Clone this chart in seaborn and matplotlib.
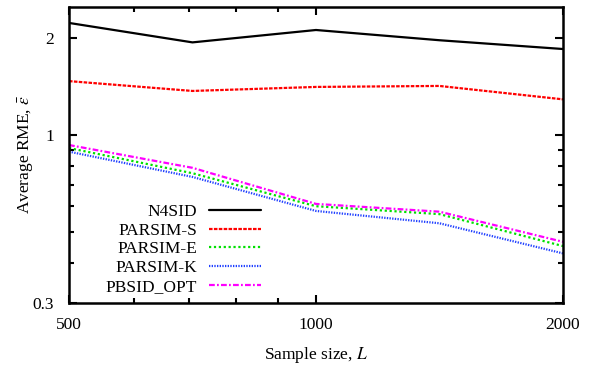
import numpy as np
import pandas as pd
import seaborn as sns
import matplotlib.pyplot as plt
from matplotlib.ticker import FixedLocator, FixedFormatter, NullFormatter

sample_size = [500, 707, 1000, 1414, 2000]
methods = ['N4SID', 'PARSIM-S', 'PARSIM-E', 'PARSIM-K', 'PBSID_OPT']
n4sid = [2.23, 1.94, 2.12, 1.97, 1.85]
parsim_s = [1.47, 1.37, 1.41, 1.42, 1.29]
parsim_e = [0.91, 0.76, 0.60, 0.567, 0.451]
parsim_k = [0.887, 0.74, 0.58, 0.531, 0.428]
pbsid_opt = [0.93, 0.79, 0.61, 0.577, 0.465]

df = pd.DataFrame({
    'L': sample_size * 5,
    'rme': n4sid + parsim_s + parsim_e + parsim_k + pbsid_opt,
    'method': [m for m in methods for _ in sample_size],
})

sns.set_style('ticks')
plt.rcParams['font.family'] = ['Liberation Serif', 'DejaVu Serif']
plt.rcParams['mathtext.fontset'] = 'stix'
plt.rcParams['text.color'] = 'black'
plt.rcParams['axes.labelcolor'] = 'black'

colors = {'N4SID': 'black', 'PARSIM-S': '#ff0000', 'PARSIM-E': '#00e000',
          'PARSIM-K': '#2040ff', 'PBSID_OPT': '#ff00ff'}
dashes = {'N4SID': '', 'PARSIM-S': (1.6, 0.6), 'PARSIM-E': (1.0, 1.2),
          'PARSIM-K': (0.6, 0.6), 'PBSID_OPT': (2.6, 1.0, 0.8, 1.0)}

fs = 12.5
fig = plt.figure(figsize=(5.96, 3.67), dpi=100)
ax = fig.add_axes([0.1158, 0.1744, 0.8288, 0.8066])
sns.lineplot(data=df, x='L', y='rme', hue='method', style='method',
             palette=colors, dashes=dashes, hue_order=methods, style_order=methods,
             linewidth=1.6, ax=ax)

ax.set_xscale('log')
ax.set_yscale('log')
ax.set_xlim(500, 2000)
ax.set_ylim(0.3, 2.5)

ax.xaxis.set_major_locator(FixedLocator([500, 1000, 2000]))
ax.xaxis.set_major_formatter(FixedFormatter(['500', '1000', '2000']))
ax.xaxis.set_minor_locator(FixedLocator([600, 700, 800, 900]))
ax.xaxis.set_minor_formatter(NullFormatter())
ax.yaxis.set_major_locator(FixedLocator([0.3, 1, 2]))
ax.yaxis.set_major_formatter(FixedFormatter(['0.3', '1', '2']))
ax.yaxis.set_minor_locator(FixedLocator([0.4, 0.5, 0.6, 0.7, 0.8, 0.9]))
ax.yaxis.set_minor_formatter(NullFormatter())

ax.tick_params(which='both', direction='in', top=True, right=True, width=1.5,
               colors='black', labelsize=fs)
ax.tick_params(axis='x', pad=10)
ax.tick_params(axis='y', pad=11)
ax.tick_params(which='major', length=6)
ax.tick_params(which='minor', length=3.5)
for s in ax.spines.values():
    s.set_linewidth(1.8)
    s.set_color('black')

ax.set_xlabel('Sample size, $L$', fontsize=fs, labelpad=9)
ax.set_ylabel(r'Average RME, $\bar{\epsilon}$', fontsize=fs, labelpad=-3)

ax.legend(loc='upper right', bbox_to_anchor=(0.389, 0.335), frameon=False, fontsize=fs,
          markerfirst=False, handlelength=3.0, labelspacing=0.15, handletextpad=0.7,
          borderpad=0, borderaxespad=0)

fig.savefig('out.png', dpi=100)
